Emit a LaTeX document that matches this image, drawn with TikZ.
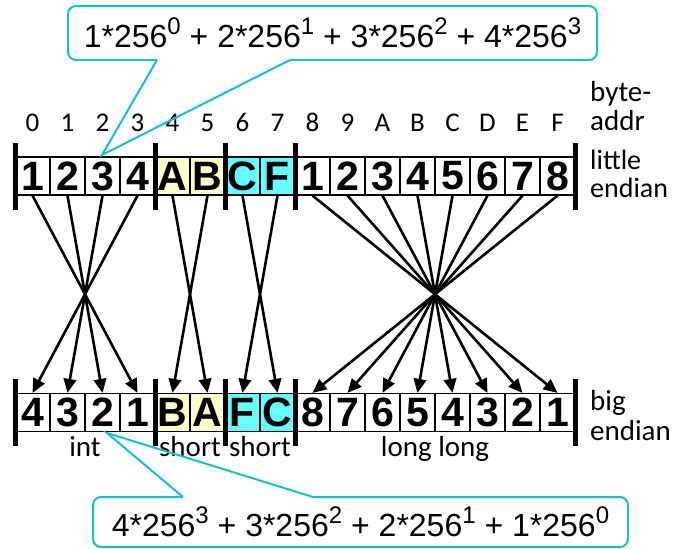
\documentclass[tikz,border=0pt]{standalone}
\usepackage{fontspec}
\setmainfont{Liberation Sans}
\newfontfamily\lblfont{Carlito}
\usetikzlibrary{arrows.meta}

\definecolor{callc}{RGB}{24,190,200}
\definecolor{shortone}{RGB}{255,255,204}
\definecolor{shorttwo}{RGB}{102,255,255}

% power of 256 with a raised exponent
\newcommand\pw[1]{256\raisebox{13pt}{\fontsize{24}{24}\selectfont #1}}

\begin{document}
\begin{tikzpicture}[x=1pt,y=-1pt,
  cell/.style={draw=black, line width=1.2pt, minimum width=35pt, minimum height=38pt,
    inner sep=0pt, font=\fontsize{41}{41}\selectfont\bfseries},
  bar/.style={line width=5pt},
  arr/.style={line width=2.6pt, -{Triangle[length=14pt,width=12.5pt]}},
  lbl/.style={font=\lblfont\fontsize{29}{29}\selectfont, inner sep=0pt},
  side/.style={inner sep=0pt, align=left, anchor=base west},
  callout/.style={draw=callc, line width=2pt, rounded corners=8pt, fill=white,
    inner sep=0pt, font=\fontsize{32}{32}\selectfont},
  pointer/.style={draw=callc, line width=2pt, line join=miter}]
\useasboundingbox (0,0) rectangle (683,549);

% byte addresses
\foreach \a [count=\i from 0] in {0,1,2,3,4,5,6,7,8,9,A,B,C,D,E,F}
  \node[lbl, anchor=base, font=\lblfont\fontsize{27}{27}\selectfont] (ad\i) at ({32.5+35*\i},131) {\a};
% two-line side labels: base anchor sits on the second line
\node[side, font=\lblfont\fontsize{29}{29}\selectfont] (hdr) at (590,130) {byte-\\addr};

% little endian row
\foreach \t/\c [count=\i from 0] in {1/white,2/white,3/white,4/white,A/shortone,B/shortone,
    C/shorttwo,F/shorttwo,1/white,2/white,3/white,4/white,5/white,6/white,7/white,8/white}
  \node[cell, fill=\c] (t\i) at ({32.5+35*\i},176) {\t};
\node[side, font=\lblfont\fontsize{28}{28}\selectfont] (le) at (590,197) {little\\endian};

% big endian row
\foreach \t/\c [count=\i from 0] in {4/white,3/white,2/white,1/white,B/shortone,A/shortone,
    F/shorttwo,C/shorttwo,8/white,7/white,6/white,5/white,4/white,3/white,2/white,1/white}
  \node[cell, fill=\c] (b\i) at ({32.5+35*\i},412.5) {\t};
\node[side, font=\lblfont\fontsize{29}{30}\selectfont] (be) at (590,440) {big\\endian};

% type boundaries
\foreach \x in {15,155,225,295,575} {
  \draw[bar] (\x,143) -- (\x,210);
  \draw[bar] (\x,379) -- (\x,446);
}

% type names
\node[lbl, anchor=base] (tint) at (85,456) {int};
\node[lbl, anchor=base] (tsa) at (190,456) {short};
\node[lbl, anchor=base] (tsb) at (260,456) {short};
\node[lbl, anchor=base] (tll) at (435,456) {long long};

% byte reordering
\foreach \s/\d in {0/3,1/2,2/1,3/0,4/5,5/4,6/7,7/6,
    8/15,9/14,10/13,11/12,12/11,13/10,14/9,15/8}
  \draw[arr] (t\s.south) -- (b\d.north);

% value of the little endian int
\node[callout, minimum width=529pt, minimum height=54pt] (ctop) at (332.5,33)
  {1*\pw{0} + 2*\pw{1} + 3*\pw{2} + 4*\pw{3}};
\coordinate (ctipa) at (157,60);
\coordinate (ctipb) at (290,60);
\coordinate (ctip) at (102,155);
\draw[white, line width=3pt] (ctipa) -- (ctipb);
\draw[pointer] (ctipa) -- (ctip) -- (ctipb);

% value of the big endian int
\node[callout, minimum width=535pt, minimum height=50pt] (cbot) at (360.5,522)
  {4*\pw{3} + 3*\pw{2} + 2*\pw{1} + 1*\pw{0}};
\coordinate (cbipa) at (183,497);
\coordinate (cbipb) at (313,497);
\coordinate (cbip) at (107,433);
\draw[white, line width=3pt] (cbipa) -- (cbipb);
\draw[pointer] (cbipa) -- (cbip) -- (cbipb);
\end{tikzpicture}
\end{document}
